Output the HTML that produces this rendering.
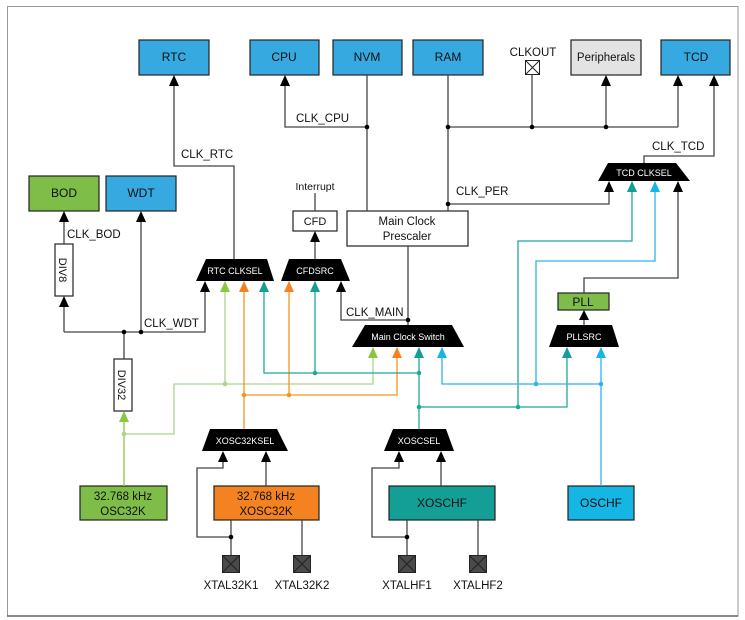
<!DOCTYPE html>
<html><head><meta charset="utf-8"><style>
html,body{margin:0;padding:0;background:#fff;}
svg{display:block;font-family:"Liberation Sans",Arial,sans-serif;}
</style></head><body>
<svg width="745" height="620" viewBox="0 0 745 620" xmlns="http://www.w3.org/2000/svg">
<rect x="7.5" y="6.5" width="730.5" height="609.5" fill="none" stroke="#999" stroke-width="1"/>
<line x1="7" y1="616" x2="738" y2="616" stroke="#666" stroke-width="1.5"/>

<g stroke="#222" stroke-width="1.2">
<rect x="139" y="40" width="70" height="35" fill="#36a9e1"/>
<rect x="250" y="40" width="69" height="35" fill="#36a9e1"/>
<rect x="333" y="40" width="69" height="35" fill="#36a9e1"/>
<rect x="413" y="40" width="70" height="35" fill="#36a9e1"/>
<rect x="571" y="40" width="70" height="35" fill="#e3e3e3"/>
<rect x="661" y="40" width="69" height="35" fill="#36a9e1"/>
<rect x="29" y="176" width="70" height="35" fill="#7dbd48"/>
<rect x="106" y="176" width="70" height="35" fill="#36a9e1"/>
<rect x="293" y="211" width="44" height="20" fill="#fff"/>
<rect x="347" y="211" width="121" height="35" fill="#fff"/>
<rect x="55" y="244" width="18" height="52" fill="#fff"/>
<rect x="114" y="359" width="18" height="52" fill="#fff"/>
<rect x="558" y="293" width="51" height="17" fill="#7dbd48"/>
<rect x="80" y="486" width="87" height="34" fill="#7dbd48"/>
<rect x="214" y="486" width="105" height="34" fill="#f58220"/>
<rect x="389" y="486" width="106" height="34" fill="#139e96"/>
<rect x="568" y="486" width="66" height="34" fill="#15b6e3"/>
</g>
<g font-size="12" text-anchor="middle" fill="#111">
<text x="174" y="61">RTC</text>
<text x="284" y="61">CPU</text>
<text x="367" y="61">NVM</text>
<text x="448" y="61">RAM</text>
<text x="606" y="61" font-size="11.5">Peripherals</text>
<text x="696" y="61">TCD</text>
<text x="64" y="197">BOD</text>
<text x="141" y="197">WDT</text>
<text x="315" y="225" font-size="11">CFD</text>
<text x="407" y="225" font-size="11.5">Main Clock</text>
<text x="407" y="240" font-size="11.5">Prescaler</text>
<text x="583" y="306" font-size="12">PLL</text>
<text x="123" y="500" font-size="11.5">32.768 kHz</text>
<text x="123" y="515" font-size="11.5">OSC32K</text>
<text x="266" y="500" font-size="11.5">32.768 kHz</text>
<text x="266" y="515" font-size="11.5">XOSC32K</text>
<text x="442" y="507">XOSCHF</text>
<text x="601" y="507">OSCHF</text>
<text transform="translate(59,270) rotate(90)" font-size="11">DIV8</text>
<text transform="translate(118,385) rotate(90)" font-size="11">DIV32</text>
<text x="533" y="56" font-size="11.5">CLKOUT</text>
<text x="315" y="190" font-size="10.5">Interrupt</text>
</g>
<g font-size="11.5" fill="#111">
<text x="296" y="122">CLK_CPU</text>
<text x="181" y="158">CLK_RTC</text>
<text x="652" y="150">CLK_TCD</text>
<text x="456" y="195">CLK_PER</text>
<text x="67" y="238">CLK_BOD</text>
<text x="144" y="327">CLK_WDT</text>
<text x="346" y="316">CLK_MAIN</text>
</g>

<g fill="none" stroke="#444" stroke-width="1.3">
<path d="M234,259 V166 H174 V80"/>
<path d="M367,75 V211"/>
<path d="M367,127 H285 V80"/>
<path d="M448,75 V211"/>
<path d="M448,127 H678"/>
<path d="M532,127 V75"/>
<path d="M606,127 V80"/>
<path d="M678,127 V80"/>
<path d="M644,163 V156 H714 V80"/>
<path d="M448,204 H609 V186"/>
<path d="M408,246 V325"/>
<path d="M408,320 H341 V286"/>
<path d="M315,259 V236"/>
<path d="M315,211 V193"/>
<path d="M64,332 H205 V286"/>
<path d="M64,332 V301"/>
<path d="M64,244 V216"/>
<path d="M141,332 V216"/>
<path d="M124,332 V359"/>
<path d="M584,325 V314"/>
<path d="M584,293 V278 H678 V186"/>
<path d="M231,520 V555"/>
<path d="M231,537 H197 V468 H223 V456"/>
<path d="M266,486 V456"/>
<path d="M302,520 V555"/>
<path d="M407,520 V555"/>
<path d="M407,537 H372 V468 H399 V456"/>
<path d="M441,486 V456"/>
<path d="M478,520 V555"/>
</g>
<g fill="#000">
<path d="M169,86 L174,75 L179,86Z"/>
<path d="M280,86 L285,75 L290,86Z"/>
<path d="M601,86 L606,75 L611,86Z"/>
<path d="M673,86 L678,75 L683,86Z"/>
<path d="M709,86 L714,75 L719,86Z"/>
<path d="M604,192 L609,181 L614,192Z"/>
<path d="M673,192 L678,181 L683,192Z"/>
<path d="M336,292 L341,281 L346,292Z"/>
<path d="M310,242 L315,231 L320,242Z"/>
<path d="M200,292 L205,281 L210,292Z"/>
<path d="M59,307 L64,296 L69,307Z"/>
<path d="M59,222 L64,211 L69,222Z"/>
<path d="M136,222 L141,211 L146,222Z"/>
<path d="M579,320 L584,310 L589,320Z"/>
<path d="M218,462 L223,451 L228,462Z"/>
<path d="M261,462 L266,451 L271,462Z"/>
<path d="M394,462 L399,451 L404,462Z"/>
<path d="M436,462 L441,451 L446,462Z"/>
<circle cx="367" cy="127" r="2.3"/><circle cx="448" cy="127" r="2.3"/><circle cx="532" cy="127" r="2.3"/><circle cx="606" cy="127" r="2.3"/>
<circle cx="448" cy="204" r="2.3"/><circle cx="408" cy="320" r="2.3"/><circle cx="124" cy="332" r="2.3"/><circle cx="141" cy="332" r="2.3"/>
<circle cx="231" cy="537" r="2.3"/><circle cx="407" cy="537" r="2.3"/>
</g>

<g fill="none" stroke-width="1.3">
<path d="M124,486 V412" stroke="#8cc63f"/>
<path d="M124,434 H174 V384 H373 V348 M225,384 V282" stroke="#a8d58b"/>
<path d="M244,429 V282 M244,395 H397 V348 M289,395 V282" stroke="#f7941d"/>
<path d="M264,282 V373 H419 M315,373 V282 M419,429 V348 M419,407 H567 V348 M518,407 V241 H632 V182" stroke="#1fa89c"/>
<path d="M601,486 V348 M442,348 V384 H601 M536,384 V261 H655 V182" stroke="#29b5e8"/>
</g>
<g>
<circle cx="124" cy="434" r="2.3" fill="#a8d58b"/><circle cx="225" cy="384" r="2.3" fill="#a8d58b"/>
<circle cx="244" cy="395" r="2.3" fill="#f7941d"/><circle cx="289" cy="395" r="2.3" fill="#f7941d"/>
<circle cx="315" cy="373" r="2.3" fill="#1fa89c"/><circle cx="419" cy="373" r="2.3" fill="#1fa89c"/><circle cx="419" cy="407" r="2.3" fill="#1fa89c"/><circle cx="518" cy="407" r="2.3" fill="#1fa89c"/>
<circle cx="601" cy="384" r="2.3" fill="#29b5e8"/><circle cx="536" cy="384" r="2.3" fill="#29b5e8"/>
</g>
<g>
<path d="M119,422 L124,411 L129,422Z" fill="#8cc63f"/>
<path d="M220,292 L225,281 L230,292Z" fill="#8cc63f"/>
<path d="M368,358 L373,347 L378,358Z" fill="#8cc63f"/>
<path d="M239,292 L244,281 L249,292Z" fill="#f58220"/>
<path d="M284,292 L289,281 L294,292Z" fill="#f58220"/>
<path d="M392,358 L397,347 L402,358Z" fill="#f58220"/>
<path d="M259,292 L264,281 L269,292Z" fill="#139e96"/>
<path d="M310,292 L315,281 L320,292Z" fill="#139e96"/>
<path d="M414,358 L419,347 L424,358Z" fill="#139e96"/>
<path d="M562,358 L567,347 L572,358Z" fill="#139e96"/>
<path d="M627,192 L632,181 L637,192Z" fill="#139e96"/>
<path d="M437,358 L442,347 L447,358Z" fill="#15b6e3"/>
<path d="M596,358 L601,347 L606,358Z" fill="#15b6e3"/>
<path d="M650,192 L655,181 L660,192Z" fill="#15b6e3"/>
</g>

<g fill="#000">
<path d="M206,259 H267 L274,281 H196 Z"/>
<path d="M289,259 H341 L350,281 H281 Z"/>
<path d="M365,325 H452 L464,347 H352 Z"/>
<path d="M557,325 H612 L619,347 H549 Z"/>
<path d="M608,163 H676 L690,181 H598 Z"/>
<path d="M210,429 H277 L288,451 H202 Z"/>
<path d="M393,429 H446 L454,451 H384 Z"/>
</g>
<g fill="#fff" font-size="9" text-anchor="middle">
<text x="235" y="274">RTC CLKSEL</text>
<text x="315" y="274">CFDSRC</text>
<text x="408" y="340">Main Clock Switch</text>
<text x="584" y="340">PLLSRC</text>
<text x="644" y="176">TCD CLKSEL</text>
<text x="245" y="444">XOSC32KSEL</text>
<text x="419" y="444">XOSCSEL</text>
</g>

<g stroke="#222" stroke-width="1">
<rect x="525.5" y="60.5" width="14" height="14" fill="#fff"/>
<path d="M525.5,60.5 L539.5,74.5 M539.5,60.5 L525.5,74.5"/>
<rect x="222.5" y="555.5" width="17" height="17" fill="#4a4a4a"/>
<path d="M222.5,555.5 L239.5,572.5 M239.5,555.5 L222.5,572.5"/>
<rect x="293.5" y="555.5" width="17" height="17" fill="#4a4a4a"/>
<path d="M293.5,555.5 L310.5,572.5 M310.5,555.5 L293.5,572.5"/>
<rect x="398.5" y="555.5" width="17" height="17" fill="#4a4a4a"/>
<path d="M398.5,555.5 L415.5,572.5 M415.5,555.5 L398.5,572.5"/>
<rect x="469.5" y="555.5" width="17" height="17" fill="#4a4a4a"/>
<path d="M469.5,555.5 L486.5,572.5 M486.5,555.5 L469.5,572.5"/>
</g>
<g font-size="11.5" text-anchor="middle" fill="#111">
<text x="231" y="589">XTAL32K1</text>
<text x="302" y="589">XTAL32K2</text>
<text x="407" y="589">XTALHF1</text>
<text x="478" y="589">XTALHF2</text>
</g>
</svg>
</body></html>
